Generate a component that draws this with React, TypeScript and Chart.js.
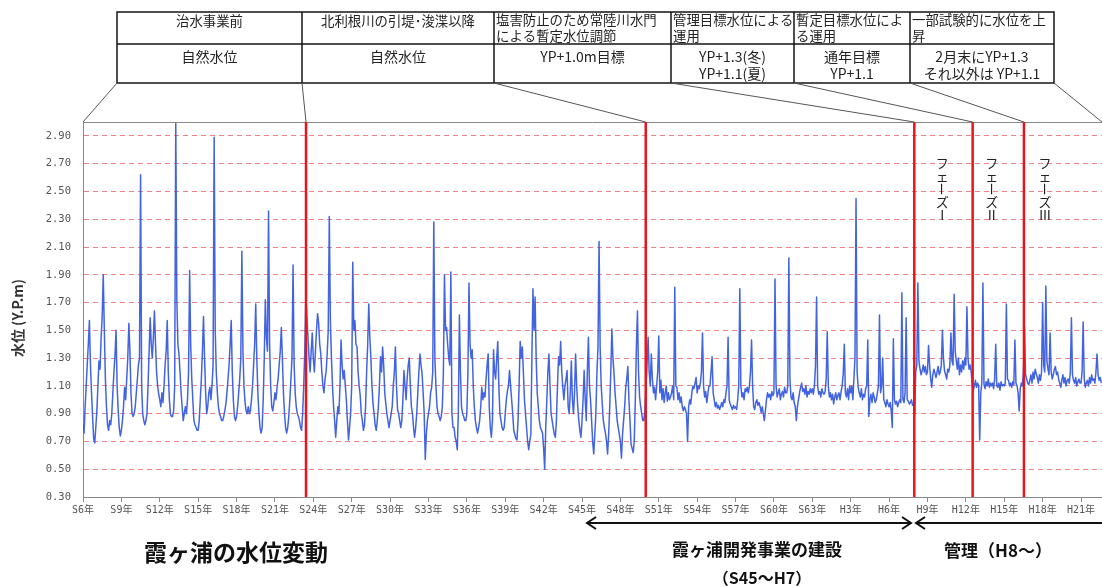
import React, { useEffect, useRef } from 'react';
import { Chart, registerables } from 'chart.js';

Chart.register(...registerables);

// Monthly water levels (Y.P. m)
// 1931 (S6) – 1950 (S25)
const levelsS6toS25 = [
  0.82, 0.76, 0.95, 1.10, 1.26, 1.40, 1.57, 1.25, 1.05, 0.88, 0.72, 0.69,
  0.80, 0.92, 1.10, 1.28, 1.22, 1.45, 1.60, 1.90, 1.50, 1.15, 0.95, 0.82,
  0.78, 0.85, 0.82, 0.90, 1.05, 1.20, 1.32, 1.50, 1.10, 0.92, 0.80, 0.74,
  0.78, 0.85, 0.95, 1.09, 1.00, 1.15, 1.30, 1.55, 1.35, 1.05, 0.90, 0.88,
  0.90, 0.95, 1.05, 1.15, 1.25, 1.30, 2.62, 1.10, 0.90, 0.85, 0.82, 0.85,
  0.90, 1.10, 1.35, 1.59, 1.40, 1.30, 1.45, 1.64, 1.40, 1.20, 1.10, 1.04,
  1.00, 0.95, 1.05, 0.98, 1.10, 1.25, 1.35, 1.57, 1.20, 1.00, 0.90, 0.88,
  0.88, 0.92, 1.10, 2.99, 1.72, 1.40, 1.33, 1.20, 1.05, 0.95, 0.85, 0.90,
  0.95, 0.90, 1.00, 1.20, 1.93, 1.40, 1.15, 1.00, 0.85, 0.82, 0.80, 0.78,
  0.78, 0.85, 1.00, 1.15, 1.35, 1.60, 1.30, 1.05, 0.90, 0.95, 1.05, 1.09,
  1.00, 1.10, 1.25, 2.89, 1.50, 1.20, 1.05, 0.95, 0.90, 0.88, 0.85, 0.85,
  0.88, 0.92, 0.97, 1.05, 1.15, 1.25, 1.40, 1.57, 1.20, 1.00, 0.88, 0.85,
  0.88, 0.95, 1.05, 1.15, 1.30, 2.07, 1.35, 1.09, 0.98, 0.92, 0.90, 0.95,
  0.90, 0.92, 1.00, 1.10, 1.25, 1.40, 1.69, 1.30, 1.05, 0.90, 0.80, 0.76,
  0.80, 1.00, 1.30, 1.72, 1.45, 1.35, 2.36, 1.40, 1.10, 0.95, 0.92, 0.98,
  1.05, 1.00, 1.09, 1.15, 1.25, 1.35, 1.52, 1.30, 1.05, 0.90, 0.80, 0.76,
  0.80, 0.88, 1.00, 1.15, 1.30, 1.97, 1.25, 1.05, 0.95, 0.90, 0.88, 0.85,
  0.80, 0.78, 0.90, 1.10, 1.35, 1.74, 1.60, 1.45, 1.30, 1.20, 1.35, 1.48,
  1.30, 1.20, 1.35, 1.50, 1.62, 1.55, 1.40, 1.33, 1.20, 1.10, 1.05, 1.15,
  1.20, 1.33, 1.50, 2.32, 1.57, 1.30, 1.10, 0.95, 0.85, 0.73, 0.85, 0.95,
];
// 1951 (S26) – 1974 (S49)
const levelsS26toS49 = [
  0.90, 1.10, 1.43, 1.25, 1.15, 1.21, 1.10, 1.00, 0.85, 0.71, 0.80, 0.90,
  1.10, 1.99, 1.50, 1.57, 1.40, 1.38, 1.20, 1.10, 1.03, 0.90, 0.85, 0.78,
  0.82, 0.95, 1.20, 1.40, 1.69, 1.45, 1.30, 1.10, 0.97, 0.90, 0.82, 0.78,
  0.85, 0.95, 1.10, 1.31, 1.20, 1.38, 1.25, 1.05, 0.97, 0.90, 0.85, 0.80,
  0.85, 0.90, 0.95, 1.10, 1.20, 1.38, 1.10, 0.93, 0.90, 0.85, 0.80, 0.85,
  1.00, 1.21, 1.10, 1.00, 1.15, 1.25, 1.30, 1.10, 0.95, 0.90, 0.80, 0.73,
  0.80, 0.90, 1.05, 1.20, 1.33, 1.25, 1.19, 1.05, 0.90, 0.57, 0.75, 0.85,
  0.90, 0.95, 1.05, 1.09, 1.20, 2.28, 1.30, 1.10, 0.95, 0.90, 0.88, 0.85,
  0.88, 0.95, 1.20, 1.90, 1.50, 1.52, 1.40, 1.30, 1.25, 1.92, 0.90, 0.80,
  0.80, 0.73, 0.70, 0.64, 0.90, 1.61, 1.20, 0.95, 0.90, 0.88, 0.85, 0.85,
  0.90, 1.20, 1.84, 1.40, 1.30, 1.36, 1.10, 0.95, 0.85, 0.80, 0.76, 0.80,
  0.85, 0.95, 1.09, 1.00, 1.05, 1.02, 1.15, 1.25, 1.33, 0.95, 0.80, 0.73,
  0.85, 1.36, 1.20, 1.15, 1.30, 1.42, 1.10, 0.90, 0.85, 0.80, 0.78, 0.80,
  0.90, 1.00, 1.06, 1.10, 1.21, 1.10, 1.00, 0.90, 0.78, 0.75, 0.72, 0.71,
  0.85, 1.10, 1.42, 1.30, 1.38, 1.20, 1.00, 0.90, 0.80, 0.70, 0.64, 0.70,
  0.75, 1.30, 1.80, 1.50, 1.74, 1.30, 1.05, 0.95, 0.85, 0.80, 0.78, 0.76,
  0.65, 0.50, 0.80, 1.00, 1.20, 1.33, 1.10, 0.90, 0.85, 0.80, 0.75, 0.73,
  0.85, 1.10, 1.31, 1.25, 1.42, 1.20, 1.09, 1.00, 1.10, 1.15, 1.21, 0.95,
  0.90, 1.05, 1.28, 1.00, 0.90, 1.05, 1.33, 1.10, 0.95, 0.85, 0.78, 0.73,
  0.85, 1.00, 1.21, 1.00, 0.85, 1.20, 1.45, 1.10, 1.00, 0.85, 0.70, 0.61,
  0.75, 0.90, 1.20, 1.38, 2.14, 1.38, 1.10, 0.97, 0.85, 0.80, 0.76, 0.70,
  0.61, 0.75, 0.95, 1.20, 1.51, 1.30, 1.19, 1.05, 0.95, 0.85, 0.80, 0.75,
  0.70, 0.58, 0.75, 0.85, 0.95, 1.09, 1.15, 1.24, 1.00, 0.85, 0.68, 0.65,
  0.62, 0.70, 1.00, 1.38, 1.64, 1.20, 1.02, 0.95, 0.90, 0.85, 0.85, 0.92,
];
// 1975 (S50) – 1995 (H7)
const levelsS50toH7 = [
  1.10, 1.25, 1.45, 1.20, 1.10, 1.33, 1.15, 1.05, 1.09, 1.00, 1.10, 1.20,
  1.46, 1.05, 1.14, 1.00, 1.08, 0.98, 1.05, 1.10, 0.99, 1.05, 1.00, 1.02,
  1.05, 1.10, 1.00, 1.81, 1.10, 1.09, 1.00, 1.05, 0.98, 1.02, 0.95, 0.92,
  0.95, 0.93, 0.90, 0.70, 0.95, 1.00, 0.97, 1.05, 1.10, 1.08, 1.12, 1.16,
  1.05, 1.10, 1.08, 1.12, 1.20, 1.48, 1.10, 1.02, 1.06, 0.98, 1.04, 1.10,
  1.10, 1.20, 1.31, 1.05, 1.00, 0.95, 0.98, 0.94, 0.96, 0.93, 0.95, 0.98,
  0.95, 1.00, 0.98, 1.05, 1.10, 1.45, 1.00, 0.97, 0.95, 0.93, 0.96, 0.94,
  0.95, 0.93, 1.00, 1.10, 1.80, 1.10, 1.02, 1.05, 1.00, 1.08, 1.06, 1.09,
  1.05, 1.10, 1.20, 1.43, 1.10, 0.95, 0.93, 0.98, 1.00, 0.96, 0.98, 0.95,
  0.91, 0.95, 0.90, 0.85, 0.92, 1.00, 1.05, 1.02, 1.04, 1.00, 1.06, 1.03,
  1.05, 1.87, 1.10, 1.02, 1.05, 1.08, 1.00, 1.04, 1.06, 1.02, 1.09, 1.05,
  1.05, 1.10, 2.02, 1.15, 1.02, 1.00, 1.05, 0.98, 0.95, 0.85, 0.95, 1.00,
  1.05, 1.09, 1.12, 1.06, 1.08, 1.04, 1.10, 1.02, 1.06, 1.04, 1.08, 1.05,
  1.08, 1.04, 1.10, 1.25, 1.74, 1.10, 1.04, 1.06, 1.02, 1.08, 1.05, 1.04,
  1.06, 1.15, 1.49, 1.10, 1.02, 1.05, 1.00, 1.04, 0.97, 1.02, 1.05, 1.00,
  1.03, 1.05, 1.00, 1.06, 1.10, 1.19, 1.40, 1.05, 1.02, 1.08, 1.00, 1.10,
  1.05, 1.10, 1.00, 1.15, 1.30, 2.45, 1.20, 1.09, 1.05, 1.02, 1.08, 1.00,
  1.04, 1.02, 1.08, 1.10, 1.43, 0.88, 1.00, 1.04, 0.98, 1.05, 1.02, 0.98,
  1.00, 1.05, 1.10, 1.61, 1.05, 1.10, 1.30, 1.00, 0.98, 0.95, 1.00, 0.97,
  0.95, 0.98, 0.92, 0.80, 1.44, 1.00, 0.97, 0.99, 0.95, 0.98, 1.00, 0.98,
  1.77, 1.00, 0.98, 1.05, 1.59, 1.00, 0.99, 0.97, 0.98, 1.00, 0.96, 0.97,
];
// 1996 (H8) – 2010 (H22)
const levelsH8toH22 = [
  0.90, 1.20, 1.25, 1.84, 1.28, 1.22, 1.18, 1.21, 1.25, 1.20, 1.24, 1.18,
  1.20, 1.39, 1.25, 1.15, 1.09, 1.18, 1.22, 1.19, 1.16, 1.20, 1.24, 1.18,
  1.20, 1.25, 1.50, 1.30, 1.21, 1.18, 1.15, 1.22, 1.20, 1.25, 1.48, 1.28,
  1.25, 1.76, 1.35, 1.28, 1.22, 1.30, 1.18, 1.25, 1.20, 1.28, 1.22, 1.30,
  1.25, 1.67, 1.30, 1.22, 1.25, 1.20, 1.10, 1.07, 1.10, 1.14, 1.09, 1.12,
  1.10, 0.71, 1.05, 1.12, 1.84, 1.11, 1.08, 1.13, 1.10, 1.15, 1.09, 1.12,
  1.10, 1.12, 1.08, 1.15, 1.40, 1.10, 1.09, 1.12, 1.07, 1.13, 1.10, 1.11,
  1.10, 1.12, 1.69, 1.15, 1.14, 1.10, 1.12, 1.09, 1.13, 1.11, 1.43, 1.12,
  1.10, 1.05, 0.92, 1.08, 1.12, 1.10, 1.20, 1.52, 1.18, 1.15, 1.12, 1.11,
  1.14, 1.18, 1.12, 1.20, 1.15, 1.22, 1.19, 1.16, 1.12, 1.18, 1.14, 1.20,
  1.70, 1.25, 1.20, 1.82, 1.28, 1.22, 1.18, 1.48, 1.20, 1.15, 1.18, 1.22,
  1.24, 1.18, 1.20, 1.15, 1.12, 1.09, 1.14, 1.18, 1.12, 1.16, 1.10, 1.14,
  1.15, 1.12, 1.20, 1.59, 1.18, 1.14, 1.12, 1.16, 1.10, 1.13, 1.15, 1.12,
  1.12, 1.20, 1.56, 1.15, 1.09, 1.12, 1.14, 1.10, 1.16, 1.12, 1.18, 1.14,
  1.15, 1.12, 1.20, 1.33, 1.18, 1.14, 1.16, 1.12,
];

const eraStartYears = [1931, 1951, 1975, 1996];

const tickYears = [1931, 1934, 1937, 1940, 1943, 1946, 1949, 1952, 1955, 1958, 1961, 1964, 1967, 1970,
  1973, 1976, 1979, 1982, 1985, 1988, 1991, 1994, 1997, 2000, 2003, 2006, 2009];
const tickLabels = ['S6年', 'S9年', 'S12年', 'S15年', 'S18年', 'S21年', 'S24年', 'S27年', 'S30年', 'S33年',
  'S36年', 'S39年', 'S42年', 'S45年', 'S48年', 'S51年', 'S54年', 'S57年', 'S60年', 'S63年',
  'H3年', 'H6年', 'H9年', 'H12年', 'H15年', 'H18年', 'H21年'];
const yTickValues = [0.3, 0.5, 0.7, 0.9, 1.1, 1.3, 1.5, 1.7, 1.9, 2.1, 2.3, 2.5, 2.7, 2.9];

const boundaryYears = [1948.43, 1974.98, 1995.97, 2000.53, 2004.54];
const phaseLabels = ['フェーズⅠ', 'フェーズⅡ', 'フェーズⅢ'];

const tableRow1 = [
  ['治水事業前'],
  ['北利根川の引堤･浚渫以降'],
  ['塩害防止のため常陸川水門', 'による暫定水位調節'],
  ['管理目標水位による', '運用'],
  ['暫定目標水位によ', 'る運用'],
  ['一部試験的に水位を上', '昇'],
];
const tableRow2 = [
  ['自然水位'],
  ['自然水位'],
  ['YP+1.0m目標'],
  ['YP+1.3(冬)', 'YP+1.1(夏)'],
  ['通年目標', 'YP+1.1'],
  ['2月末にYP+1.3', 'それ以外は YP+1.1'],
];

const chartTitle = '霞ヶ浦の水位変動';
const periodConstruction = '霞ヶ浦開発事業の建設';
const periodConstructionYears = '（S45～H7）';
const periodManagement = '管理（H8～）';
const yAxisTitle = '水位 (Y.P.m)';

const JP = '"Noto Sans CJK JP", "Noto Sans", sans-serif';

const overlayPlugin = {
  id: 'overlay',
  afterDatasetsDraw(chart: any) {
    const { ctx, chartArea: a, scales } = chart;
    const xs = scales.x;
    ctx.save();
    // top frame line
    ctx.strokeStyle = '#8a8a8a';
    ctx.lineWidth = 1;
    ctx.beginPath();
    ctx.moveTo(a.left, a.top + 0.5);
    ctx.lineTo(a.right, a.top + 0.5);
    ctx.stroke();
    // red boundary lines
    ctx.strokeStyle = '#e8141c';
    ctx.lineWidth = 2.5;
    boundaryYears.forEach((yr) => {
      const px = xs.getPixelForValue(yr);
      ctx.beginPath();
      ctx.moveTo(px, a.top);
      ctx.lineTo(px, a.bottom);
      ctx.stroke();
    });
    // phase labels (vertical text)
    const offsets = [28, 19, 21];
    ctx.fillStyle = '#222';
    ctx.font = `13px ${JP}`;
    ctx.textAlign = 'center';
    ctx.textBaseline = 'middle';
    phaseLabels.forEach((label, i) => {
      const cx = xs.getPixelForValue(boundaryYears[i + 2]) + offsets[i];
      let cy = 163;
      Array.from(label).forEach((ch) => {
        if (ch === 'ー') {
          ctx.save();
          ctx.translate(cx, cy);
          ctx.rotate(Math.PI / 2);
          ctx.fillText(ch, 0, 0);
          ctx.restore();
        } else {
          ctx.fillText(ch, cx, cy);
        }
        cy += 13;
      });
    });
    ctx.restore();
  },
  afterDraw(chart: any) {
    const { ctx, chartArea: a, scales } = chart;
    const xs = scales.x;
    ctx.save();

    // table
    const colX = [117, 302, 494, 671, 794, 910, 1054];
    const top = 12, mid = 44, bot = 83;
    ctx.strokeStyle = '#151515';
    ctx.lineWidth = 1.5;
    ctx.strokeRect(colX[0], top, colX[6] - colX[0], bot - top);
    ctx.beginPath();
    ctx.moveTo(colX[0], mid);
    ctx.lineTo(colX[6], mid);
    for (let i = 1; i < 6; i++) {
      ctx.moveTo(colX[i], top);
      ctx.lineTo(colX[i], bot);
    }
    ctx.stroke();

    ctx.fillStyle = '#222';
    ctx.font = `13.4px ${JP}`;
    ctx.textBaseline = 'middle';
    tableRow1.forEach((lines, i) => {
      const centered = i < 2;
      ctx.textAlign = centered ? 'center' : 'left';
      const tx = centered ? (colX[i] + colX[i + 1]) / 2 : colX[i] + 2;
      lines.forEach((t, j) => ctx.fillText(t, tx, (lines.length === 1 ? 21 : 20) + j * 16));
    });
    ctx.font = `14px ${JP}`;
    ctx.textAlign = 'center';
    tableRow2.forEach((lines, i) => {
      const tx = (colX[i] + colX[i + 1]) / 2;
      lines.forEach((t, j) => ctx.fillText(t, tx, 57 + j * 17));
    });

    // connectors from table to chart
    const targets = [a.left, ...boundaryYears.map((y) => xs.getPixelForValue(y)), a.right];
    ctx.strokeStyle = '#555';
    ctx.lineWidth = 1;
    ctx.beginPath();
    colX.forEach((cx, i) => {
      ctx.moveTo(cx, bot);
      ctx.lineTo(targets[i], a.top);
    });
    ctx.stroke();

    // y axis title
    ctx.save();
    ctx.translate(18, 318);
    ctx.rotate(-Math.PI / 2);
    ctx.font = `bold 14px ${JP}`;
    ctx.fillStyle = '#333';
    ctx.textAlign = 'center';
    ctx.fillText(yAxisTitle, 0, 0);
    ctx.restore();

    // arrows
    ctx.strokeStyle = '#111';
    ctx.lineWidth = 2;
    const arrow = (x1: number, x2: number, y: number, left: boolean, right: boolean) => {
      ctx.beginPath();
      ctx.moveTo(x1, y);
      ctx.lineTo(x2, y);
      ctx.stroke();
      if (left) {
        ctx.beginPath();
        ctx.moveTo(x1 + 9, y - 6);
        ctx.lineTo(x1, y);
        ctx.lineTo(x1 + 9, y + 6);
        ctx.stroke();
      }
      if (right) {
        ctx.beginPath();
        ctx.moveTo(x2 - 9, y - 6);
        ctx.lineTo(x2, y);
        ctx.lineTo(x2 - 9, y + 6);
        ctx.stroke();
      }
    };
    arrow(587, 911, 523, true, true);
    arrow(916, 1102, 523, true, false);

    // bottom titles
    ctx.fillStyle = '#111';
    ctx.textAlign = 'center';
    ctx.textBaseline = 'middle';
    ctx.font = `bold 23px ${JP}`;
    ctx.fillText(chartTitle, 236, 552);
    ctx.font = `bold 17px ${JP}`;
    ctx.fillText(periodConstruction, 757, 550);
    ctx.fillText(periodManagement, 998, 551);
    ctx.font = `bold 16px ${JP}`;
    ctx.fillText(periodConstructionYears, 762, 578);

    ctx.restore();
  },
};

export default function App() {
  const canvasRef = useRef<HTMLCanvasElement | null>(null);

  useEffect(() => {
    if (!canvasRef.current) return;
    const eras = [levelsS6toS25, levelsS26toS49, levelsS50toH7, levelsH8toH22];
    const points: { x: number; y: number }[] = [];
    eras.forEach((vals, e) => {
      vals.forEach((v, i) => points.push({ x: eraStartYears[e] + i / 12, y: v }));
    });

    const tickFont = { family: '"DejaVu Sans Mono", "Noto Sans CJK JP", monospace', size: 10 };

    const chart = new Chart(canvasRef.current, {
      type: 'line',
      data: {
        datasets: [
          {
            data: points,
            borderColor: 'rgba(56,92,222,0.95)',
            borderWidth: 1.5,
            borderJoinStyle: 'round',
            pointRadius: 0,
            tension: 0,
            fill: false,
          },
        ],
      },
      options: {
        animation: false,
        responsive: false,
        parsing: false,
        layout: { padding: { top: 122, right: 0, bottom: 68, left: 0 } },
        plugins: { legend: { display: false }, tooltip: { enabled: false }, title: { display: false } },
        scales: {
          x: {
            type: 'linear',
            min: 1931,
            max: 2010.64,
            afterBuildTicks: (s: any) => {
              s.ticks = tickYears.map((v) => ({ value: v }));
            },
            afterFit: (s: any) => {
              s.height = 22;
            },
            ticks: {
              autoSkip: false,
              maxRotation: 0,
              padding: 2,
              color: '#555',
              font: tickFont,
              callback: (v: any) => tickLabels[tickYears.indexOf(Number(v))],
            },
            grid: { drawOnChartArea: false, drawTicks: true, tickLength: 5, color: '#8a8a8a' },
            border: { display: true, color: '#8a8a8a', width: 1 },
          },
          y: {
            type: 'linear',
            min: 0.3,
            max: 3.0,
            afterBuildTicks: (s: any) => {
              s.ticks = yTickValues.map((v) => ({ value: v }));
            },
            afterFit: (s: any) => {
              s.width = 83;
            },
            ticks: {
              padding: 12,
              color: '#555',
              font: { family: '"DejaVu Sans Mono", monospace', size: 10.5 },
              callback: (v: any) => Number(v).toFixed(2),
            },
            grid: {
              drawTicks: false,
              lineWidth: 1,
              color: (c: any) => (c.tick && c.tick.value <= 0.31 ? 'rgba(0,0,0,0)' : 'rgba(236,100,100,0.8)'),
            },
            border: { display: true, color: '#8a8a8a', width: 1, dash: [5, 4] },
          },
        },
      } as any,
      plugins: [overlayPlugin],
    });
    return () => chart.destroy();
  }, []);

  return (
    <div style={{ position: 'absolute', left: 0, top: 0, width: 1102, height: 587, background: '#fff' }}>
      <canvas ref={canvasRef} width={1102} height={587} style={{ display: 'block' }} />
    </div>
  );
}
